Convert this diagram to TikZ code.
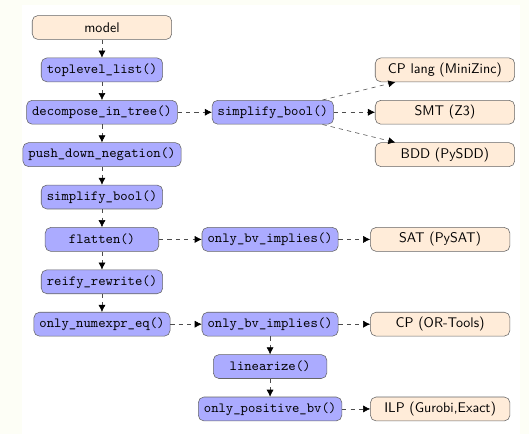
\documentclass[tikz,border=0pt]{standalone}
\usepackage{tikz}
\usetikzlibrary{arrows.meta,positioning}
\definecolor{margin}{RGB}{253,254,246}

\begin{document}
\begin{tikzpicture}[
    node distance=0.45cm and 1cm,
    pass/.style={rectangle, draw=black!60, rounded corners=4pt, minimum width=2.85cm, minimum height=0.6cm, inner xsep=4pt, fill=blue!33, font=\ttfamily},
    solver/.style={rectangle, draw=black!60, rounded corners=4pt, minimum width=3.5cm, minimum height=0.6cm, fill=orange!15, font=\sffamily},
    arrow/.style={-{Latex[length=5pt,width=5pt,color=black]}, dashed, draw=black!70},
]
% page and white sheet
\fill[margin] (-2.56,0.69) rectangle (10.72,-10.20);
\fill[white] (-2.01,0.565) rectangle (10.49,-10.20);
\useasboundingbox (-2.56,0.69) rectangle (10.72,-10.20);
% Main vertical flow
\node[solver] (model) {model};
\node[pass, below=of model] (toplevel) {toplevel\_list()};
\node[pass, below=of toplevel] (decomp) {decompose\_in\_tree()};
\node[pass, below=of decomp] (pushneg) {push\_down\_negation()};
\node[pass, below=of pushneg] (simpA) {simplify\_bool()};
\node[pass, below=of simpA] (flatten) {flatten()};
\node[pass, below=of flatten] (reify) {reify\_rewrite()};
\node[pass, below=of reify] (numexpr) {only\_numexpr\_eq()};
% Side passes (middle)
\node[pass, xshift=4.29cm] (simpB) at (decomp) {simplify\_bool()};
\node[pass, xshift=4.22cm] (bvA) at (flatten) {only\_bv\_implies()};
\node[pass, xshift=4.22cm] (bvB) at (numexpr) {only\_bv\_implies()};
\node[pass, below=of bvB] (linear) {linearize()};
\node[pass, below=of linear] (posbv) {only\_positive\_bv()};
% Solvers (right)
\node[solver, xshift=4.32cm] (smt) at (simpB) {SMT (Z3)};
\node[solver, above=of smt] (minizinc) {CP lang (MiniZinc)};
\node[solver, below=of smt] (bdd) {BDD (PySDD)};
\node[solver, xshift=4.27cm] (sat) at (bvA) {SAT (PySAT)};
\node[solver, xshift=4.27cm] (ortools) at (bvB) {CP (OR-Tools)};
\node[solver, xshift=4.27cm] (ilp) at (posbv) {ILP (Gurobi,Exact)};
% Arrows main flow
\draw[arrow] (model) -- (toplevel);
\draw[arrow] (toplevel) -- (decomp);
\draw[arrow] (decomp) -- (pushneg);
\draw[arrow] (pushneg) -- (simpA);
\draw[arrow] (simpA) -- (flatten);
\draw[arrow] (flatten) -- (reify);
\draw[arrow] (reify) -- (numexpr);
% Arrows to side passes
\draw[arrow] (decomp) -- (simpB);
\draw[arrow] (flatten) -- (bvA);
\draw[arrow] (numexpr) -- (bvB);
\draw[arrow] (bvB) -- (linear);
\draw[arrow] (linear) -- (posbv);
% Arrows to solvers
\draw[arrow] (simpB) -- (minizinc);
\draw[arrow] (simpB) -- (smt);
\draw[arrow] (simpB) -- (bdd);
\draw[arrow] (bvA) -- (sat);
\draw[arrow] (bvB) -- (ortools);
\draw[arrow] (posbv) -- (ilp);
\end{tikzpicture}
\end{document}
